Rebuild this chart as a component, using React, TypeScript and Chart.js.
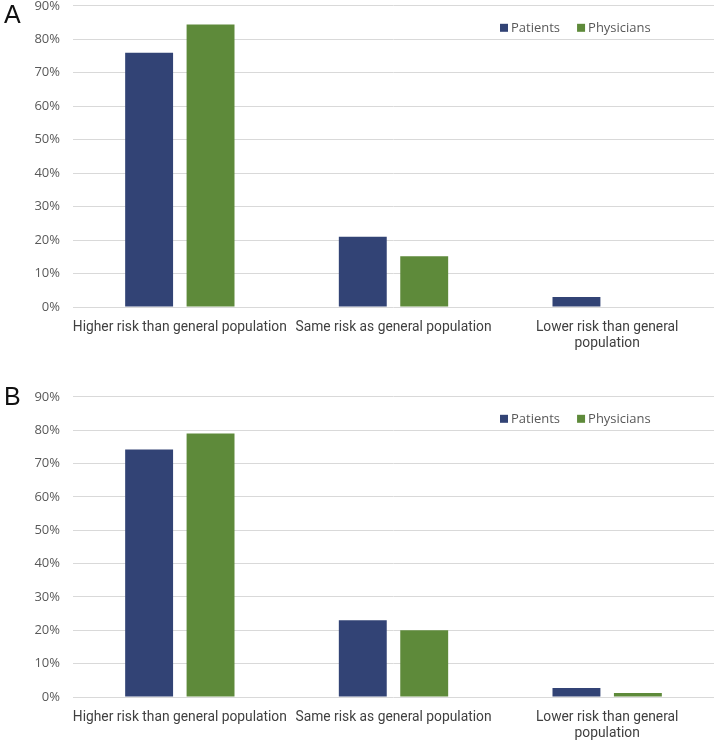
import React, { useEffect, useRef } from "react";
import { Chart, registerables } from "chart.js";

Chart.register(...registerables);

const categories: (string | string[])[] = [
  "Higher risk than general population",
  "Same risk as general population",
  ["Lower risk than general", "population"],
];
const seriesNames = ["Patients", "Physicians"];
const patientsA = [76, 21, 3];
const physiciansA = [84.4, 15.2, 0];
const patientsB = [74.2, 23, 2.7];
const physiciansB = [79, 20, 1.2];
const yTicks = [0, 10, 20, 30, 40, 50, 60, 70, 80, 90];

const NAVY = "#324375";
const GREEN = "#5E8A3A";

const legendPlugin = {
  id: "customLegend",
  afterDraw(chart: any) {
    const ctx = chart.ctx;
    const top = chart.chartArea.top;
    const y = top + 22;
    let x = 500;
    ctx.save();
    ctx.font = "13px 'Open Sans'";
    ctx.textBaseline = "middle";
    ctx.textAlign = "left";
    chart.data.datasets.forEach((ds: any) => {
      ctx.fillStyle = ds.backgroundColor;
      ctx.fillRect(x, y - 4, 8, 8);
      ctx.fillStyle = "#595959";
      ctx.fillText(ds.label, x + 11, y);
      x += 11 + ctx.measureText(ds.label).width + 17;
    });
    ctx.restore();
  },
};

function Panel({ patients, physicians, top, height, letter, letterTop }: any) {
  const ref = useRef<HTMLCanvasElement>(null);
  useEffect(() => {
    if (!ref.current) return;
    const chart = new Chart(ref.current, {
      type: "bar",
      data: {
        labels: categories,
        datasets: [
          { label: seriesNames[0], data: patients, backgroundColor: NAVY, categoryPercentage: 0.575, barPercentage: 0.78 },
          { label: seriesNames[1], data: physicians, backgroundColor: GREEN, categoryPercentage: 0.575, barPercentage: 0.78 },
        ],
      },
      options: {
        responsive: false,
        animation: false,
        layout: { padding: { left: 0, right: 0, top: 0, bottom: 0 } },
        plugins: { legend: { display: false }, tooltip: { enabled: false } },
        scales: {
          x: {
            grid: { display: false, drawTicks: false },
            border: { display: false },
            ticks: {
              padding: 13,
              maxRotation: 0,
              minRotation: 0,
              autoSkip: false,
              color: "#404040",
              font: { family: "Roboto", size: 13.8, lineHeight: 1.16 },
            },
            afterFit(scale: any) {
              scale.height = 43;
            },
          },
          y: {
            min: 0,
            max: 90,
            afterBuildTicks(scale: any) {
              scale.ticks = yTicks.map((v) => ({ value: v }));
            },
            grid: { color: "#D9D9D9", lineWidth: 1, drawTicks: false },
            border: { display: false },
            ticks: {
              padding: 13,
              color: "#595959",
              font: { family: "Open Sans", size: 13 },
              callback: (v: any) => v + "%",
            },
            afterFit(scale: any) {
              scale.width = 73;
            },
          },
        },
      },
      plugins: [legendPlugin],
    });
    return () => chart.destroy();
  }, []);
  return (
    <>
      <canvas
        ref={ref}
        width={714}
        height={height}
        style={{ position: "absolute", left: 0, top, width: 714, height }}
      />
      <div
        style={{
          position: "absolute",
          left: 4,
          top: letterTop,
          fontFamily: "'Liberation Sans', Arial, sans-serif",
          fontSize: 25,
          lineHeight: "25px",
          color: "#111",
        }}
      >
        {letter}
      </div>
    </>
  );
}

export default function App() {
  return (
    <div
      style={{
        position: "fixed",
        left: 0,
        top: 0,
        width: 714,
        height: 742,
        overflow: "hidden",
        background: "#fff",
      }}
    >
      <Panel patients={patientsA} physicians={physiciansA} top={-15} height={365} letter="A" letterTop={2} />
      <Panel patients={patientsB} physicians={physiciansB} top={376} height={364} letter="B" letterTop={384} />
    </div>
  );
}
